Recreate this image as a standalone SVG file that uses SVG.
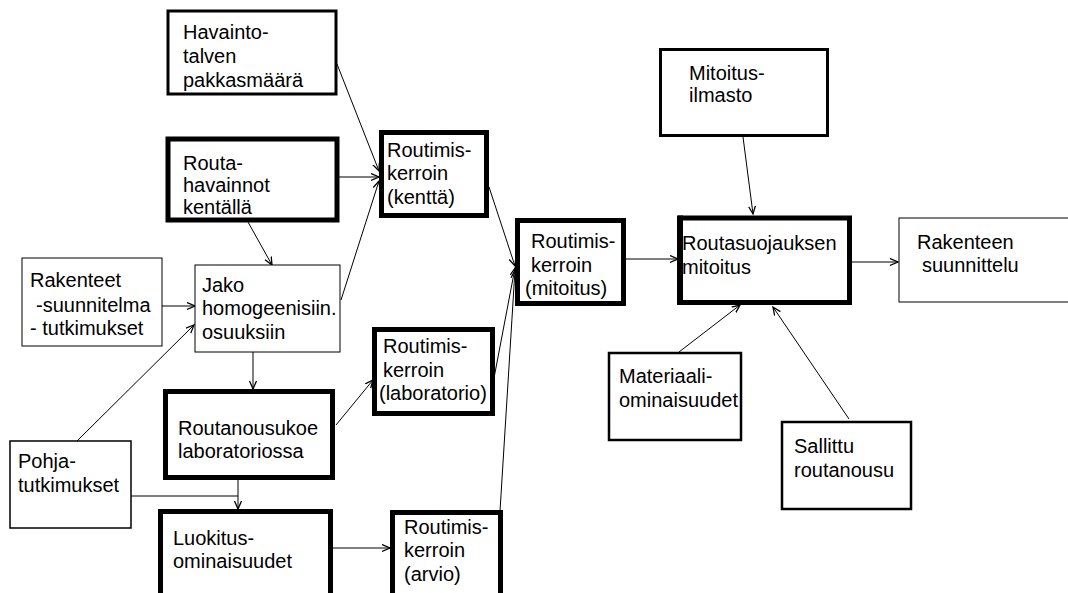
<svg xmlns="http://www.w3.org/2000/svg" width="1068" height="593" viewBox="0 0 1068 593">
<style>
text{font-family:"Liberation Sans",Arial,sans-serif;font-size:20px;fill:#000}
rect{fill:#fff;stroke:#000}
.t1{stroke-width:1}
.t2{stroke-width:2.5}
.t3{stroke-width:3}
.t5{stroke-width:5}
#connectors line{stroke:#000;stroke-width:1;fill:none}
.arr{marker-end:url(#ah)}
</style>
<defs>
<marker id="ah" markerUnits="userSpaceOnUse" markerWidth="10" markerHeight="10" refX="8" refY="4" orient="auto">
<path d="M0,0.5 L8,4 L0,7.5" fill="none" stroke="#000" stroke-width="1.3"/>
</marker>
</defs>
<rect width="1068" height="593" style="fill:#fff;stroke:none"/>
<g id="connectors">
<line class="arr" x1="337" y1="64" x2="379" y2="171"/>
<line class="arr" x1="339" y1="177" x2="379" y2="177"/>
<line class="arr" x1="341" y1="300" x2="379" y2="181"/>
<line class="arr" x1="248" y1="222" x2="272" y2="265"/>
<line class="arr" x1="162" y1="306" x2="195" y2="306"/>
<line class="arr" x1="77" y1="441" x2="194" y2="325"/>
<line class="arr" x1="253" y1="352" x2="253" y2="389"/>
<line class="arr" x1="336" y1="425" x2="373" y2="380"/>
<line class="arr" x1="238" y1="480" x2="238" y2="509"/>
<line x1="131" y1="496" x2="238" y2="496"/>
<line class="arr" x1="325" y1="548" x2="390" y2="548"/>
<line class="arr" x1="489" y1="187" x2="515" y2="266"/>
<line class="arr" x1="494" y1="378" x2="515" y2="268"/>
<line class="arr" x1="500" y1="511" x2="515" y2="270"/>
<line class="arr" x1="626" y1="259" x2="678" y2="259"/>
<line class="arr" x1="743" y1="137" x2="753" y2="214"/>
<line class="arr" x1="852" y1="262" x2="898" y2="262"/>
<line class="arr" x1="679" y1="352" x2="740" y2="305"/>
<line class="arr" x1="849" y1="419" x2="773" y2="307"/>
</g>
<g id="havainto">
<rect class="t3" x="168" y="11" width="168" height="83"/>
<text x="183" y="39">Havainto-</text>
<text x="183" y="63">talven</text>
<text x="183" y="87">pakkasmäärä</text>
</g>
<g id="routahavainnot">
<rect class="t5" x="168" y="139" width="169" height="81"/>
<text x="183" y="170">Routa-</text>
<text x="183" y="192">havainnot</text>
<text x="183" y="214">kentällä</text>
</g>
<g id="kerroin-kentta">
<rect class="t5" x="381.5" y="132.5" width="105" height="83"/>
<text x="387" y="157">Routimis-</text>
<text x="387" y="180">kerroin</text>
<text x="387" y="204">(kenttä)</text>
</g>
<g id="kerroin-mitoitus">
<rect class="t5" x="517.5" y="220.5" width="106" height="83"/>
<text x="531" y="248">Routimis-</text>
<text x="531" y="272">kerroin</text>
<text x="525" y="295">(mitoitus)</text>
</g>
<g id="kerroin-laboratorio">
<rect class="t5" x="374.5" y="329.5" width="118" height="84"/>
<text x="383" y="353">Routimis-</text>
<text x="383" y="377">kerroin</text>
<text x="379" y="400">(laboratorio)</text>
</g>
<g id="kerroin-arvio">
<rect class="t5" x="392.5" y="512.5" width="108" height="100"/>
<text x="404" y="534">Routimis-</text>
<text x="404" y="557">kerroin</text>
<text x="404" y="581">(arvio)</text>
</g>
<g id="jako">
<rect class="t1" x="195" y="265" width="145" height="87"/>
<text x="202" y="292">Jako</text>
<text x="202" y="315">homogeenisiin.</text>
<text x="202" y="339">osuuksiin</text>
</g>
<g id="rakenteet">
<rect class="t1" x="22" y="258" width="140" height="88"/>
<text x="30" y="287">Rakenteet</text>
<text x="36" y="312"> -suunnitelma</text>
<text x="30" y="335">- tutkimukset</text>
</g>
<g id="routanousukoe">
<rect class="t5" x="165.5" y="391.5" width="167" height="86"/>
<text x="178" y="435">Routanousukoe</text>
<text x="178" y="458">laboratoriossa</text>
</g>
<g id="pohja">
<rect x="10" y="441" width="121" height="87" style="stroke-width:1.5"/>
<text x="18" y="468">Pohja-</text>
<text x="18" y="492">tutkimukset</text>
</g>
<g id="luokitus">
<rect class="t5" x="160.5" y="511.5" width="170" height="100"/>
<text x="173" y="545">Luokitus-</text>
<text x="173" y="568">ominaisuudet</text>
</g>
<g id="mitoitusilmasto">
<rect class="t3" x="660.5" y="49.5" width="167" height="86"/>
<text x="689" y="80">Mitoitus-</text>
<text x="689" y="102">ilmasto</text>
</g>
<g id="routasuojaus">
<rect class="t5" x="680.5" y="218" width="169" height="84.5"/>
<line x1="680" y1="215.5" x2="680" y2="305" style="stroke:#000;stroke-width:6"/>
<text x="682" y="250">Routasuojauksen</text>
<text x="682" y="274">mitoitus</text>
</g>
<g id="rakenteen">
<rect class="t1" x="899" y="218" width="185" height="84"/>
<text x="917" y="249">Rakenteen</text>
<text x="922" y="272">suunnittelu</text>
</g>
<g id="materiaali">
<rect class="t2" x="609" y="353" width="132" height="87"/>
<text x="619" y="383">Materiaali-</text>
<text x="619" y="407">ominaisuudet</text>
</g>
<g id="sallittu">
<rect class="t2" x="782" y="422" width="129" height="87"/>
<text x="794" y="453">Sallittu</text>
<text x="794" y="477">routanousu</text>
</g>
</svg>
